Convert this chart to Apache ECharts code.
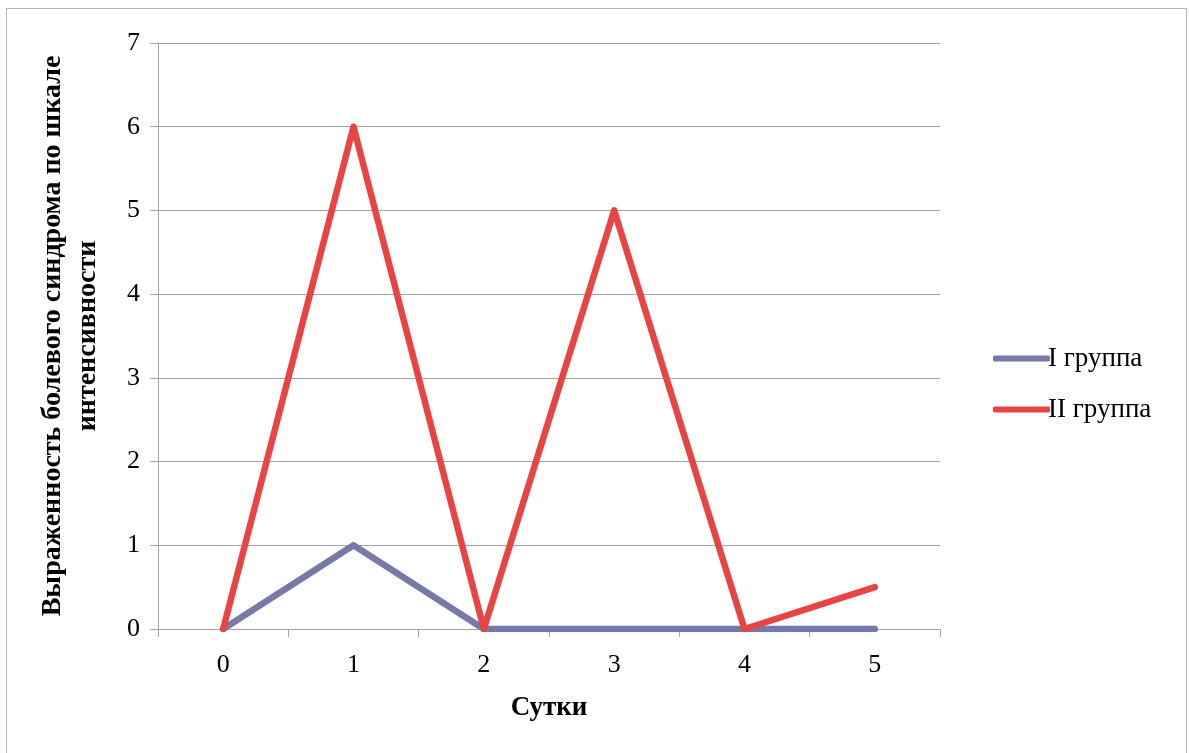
<!DOCTYPE html>
<html>
<head>
<meta charset="utf-8">
<script src="https://cdn.jsdelivr.net/npm/echarts@6/dist/echarts.min.js"></script>
<style>
  html, body { margin: 0; padding: 0; background: #ffffff; }
  #frame { position: absolute; left: 6px; top: 8px; width: 1181px; height: 750px; border: 1px solid #b5b5b5; box-sizing: border-box; }
  #chart { position: absolute; left: 0; top: 0; width: 1189px; height: 753px; }
</style>
</head>
<body>
<div id="frame"></div>
<div id="chart"></div>
<script>
// Days after the procedure
const days = ['0', '1', '2', '3', '4', '5'];
// Pain intensity scores per group
const group1 = [0, 1, 0, 0, 0, 0];
const group2 = [0, 6, 0, 5, 0, 0.5];
const seriesNames = ['I группа', 'II группа'];
const xAxisTitle = 'Сутки';
const yAxisTitle = 'Выраженность болевого синдрома по шкале\nинтенсивности';

const FONT = '"Liberation Serif", serif';
const chart = echarts.init(document.getElementById('chart'), null, { renderer: 'canvas' });

chart.setOption({
  animation: false,
  backgroundColor: 'transparent',
  grid: { left: 158, right: 249, top: 43, bottom: 124, containLabel: false, outerBoundsMode: 'none' },
  legend: {
    orient: 'vertical',
    left: 993,
    top: 345,
    padding: 0,
    itemWidth: 57,
    itemHeight: 6,
    itemGap: 24,
    icon: 'roundRect',
    data: seriesNames,
    textStyle: { fontFamily: FONT, fontSize: 27, color: '#000', padding: [0, 0, 0, -7] }
  },
  xAxis: {
    type: 'category',
    data: days,
    boundaryGap: true,
    name: xAxisTitle,
    nameLocation: 'middle',
    nameGap: 66,
    nameTextStyle: { fontFamily: FONT, fontSize: 27, fontWeight: 'bold', color: '#000' },
    axisLine: { lineStyle: { color: '#a6a6a6', width: 1 } },
    axisTick: { show: true, length: 8, lineStyle: { color: '#a6a6a6' } },
    axisLabel: { fontFamily: FONT, fontSize: 26, color: '#000', margin: 23 }
  },
  yAxis: {
    type: 'value',
    min: 0,
    max: 7,
    interval: 1,
    name: yAxisTitle,
    nameLocation: 'middle',
    nameGap: 53,
    nameTextStyle: { fontFamily: FONT, fontSize: 28, fontWeight: 'bold', color: '#000', lineHeight: 35 },
    axisLine: { show: true, lineStyle: { color: '#a6a6a6', width: 1 } },
    axisTick: { show: true, length: 8, lineStyle: { color: '#a6a6a6' } },
    splitLine: { lineStyle: { color: '#a6a6a6', width: 1 } },
    axisLabel: { fontFamily: FONT, fontSize: 26, color: '#000', margin: 18 }
  },
  series: [
    {
      name: seriesNames[0],
      type: 'line',
      data: group1,
      symbol: 'none',
      lineStyle: { color: '#7779a9', width: 6.5, cap: 'round', join: 'round' },
      itemStyle: { color: '#7779a9' }
    },
    {
      name: seriesNames[1],
      type: 'line',
      data: group2,
      symbol: 'none',
      lineStyle: { color: '#e84444', width: 6.5, cap: 'round', join: 'round' },
      itemStyle: { color: '#e84444' }
    }
  ]
});
</script>
</body>
</html>
